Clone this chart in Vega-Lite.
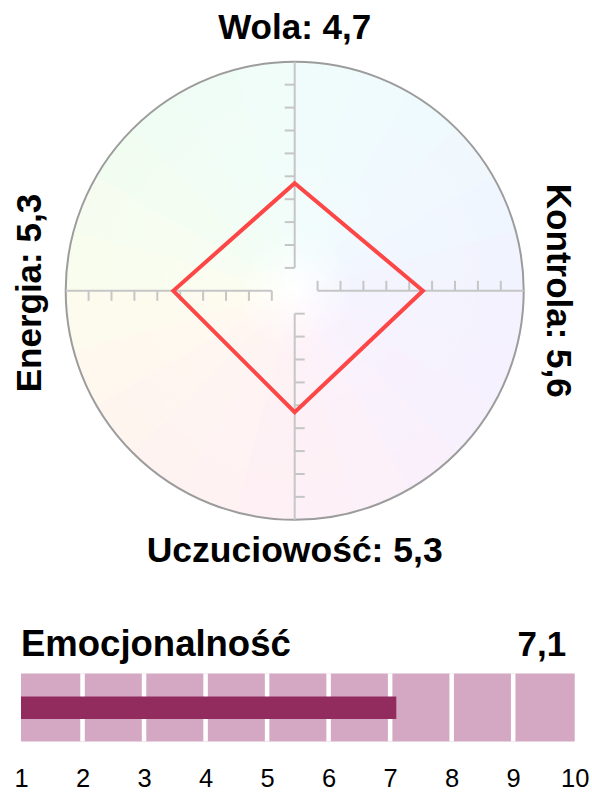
{
  "$schema": "https://vega.github.io/schema/vega-lite/v6.json",
  "padding": 0,
  "spacing": 0,
  "background": "white",
  "config": {"view": {"stroke": null}, "font": "Liberation Sans"},
  "datasets": {
    "radar": [
      {"dim": "Wola", "value": 4.7, "x": 0, "y": 4.7, "order": 1, "label": "Wola: 4,7"},
      {"dim": "Kontrola", "value": 5.6, "x": 5.6, "y": 0, "order": 2, "label": "Kontrola: 5,6"},
      {"dim": "Uczuciowość", "value": 5.3, "x": 0, "y": -5.3, "order": 3, "label": "Uczuciowość: 5,3"},
      {"dim": "Energia", "value": 5.3, "x": -5.3, "y": 0, "order": 4, "label": "Energia: 5,3"}
    ],
    "ticks": [
      {"p": 1, "n": -1}, {"p": 2, "n": -2}, {"p": 3, "n": -3}, {"p": 4, "n": -4}, {"p": 5, "n": -5},
      {"p": 6, "n": -6}, {"p": 7, "n": -7}, {"p": 8, "n": -8}, {"p": 9, "n": -9}
    ],
    "axes": [
      {"x": 0, "y": 1, "x2": 0, "y2": 10},
      {"x": 1, "y": 0, "x2": 10, "y2": 0},
      {"x": 0, "y": -1, "x2": 0, "y2": -10},
      {"x": -1, "y": 0, "x2": -10, "y2": 0}
    ],
    "sectors": [
      {"a": 0, "a2": 15}, {"a": 15, "a2": 30}, {"a": 30, "a2": 45}, {"a": 45, "a2": 60},
      {"a": 60, "a2": 75}, {"a": 75, "a2": 90}, {"a": 90, "a2": 105}, {"a": 105, "a2": 120},
      {"a": 120, "a2": 135}, {"a": 135, "a2": 150}, {"a": 150, "a2": 165}, {"a": 165, "a2": 180},
      {"a": 180, "a2": 195}, {"a": 195, "a2": 210}, {"a": 210, "a2": 225}, {"a": 225, "a2": 240},
      {"a": 240, "a2": 255}, {"a": 255, "a2": 270}, {"a": 270, "a2": 285}, {"a": 285, "a2": 300},
      {"a": 300, "a2": 315}, {"a": 315, "a2": 330}, {"a": 330, "a2": 345}, {"a": 345, "a2": 360}
    ],
    "emo": [{"name": "Emocjonalność", "value": 7.1, "label": "7,1", "min": 1, "max": 10}],
    "seps": [{"v": 2}, {"v": 3}, {"v": 4}, {"v": 5}, {"v": 6}, {"v": 7}, {"v": 8}, {"v": 9}]
  },
  "vconcat": [
    {
      "width": 589.4,
      "height": 581.6,
      "layer": [
        {
          "data": {"name": "sectors"},
          "mark": {"type": "arc", "strokeWidth": 0.8, "outerRadius": 229},
          "encoding": {
            "theta": {"field": "a", "type": "quantitative", "scale": {"domain": [0, 360], "range": [0, 6.283185307179586]}},
            "theta2": {"field": "a2"},
            "color": {"field": "a", "type": "quantitative", "legend": null,
              "scale": {"domain": [-7.5, 37.5, 82.5, 127.5, 172.5, 217.5, 262.5, 307.5, 352.5],
                        "range": ["#f0fdfa", "#f0f9fe", "#f2f2fe", "#f8f0fd", "#fdf0f5", "#fef4f0", "#fbfdee", "#f1fdf2", "#f0fdfa"]}},
            "stroke": {"field": "a", "type": "quantitative", "legend": null,
              "scale": {"domain": [-7.5, 37.5, 82.5, 127.5, 172.5, 217.5, 262.5, 307.5, 352.5],
                        "range": ["#f0fdfa", "#f0f9fe", "#f2f2fe", "#f8f0fd", "#fdf0f5", "#fef4f0", "#fbfdee", "#f1fdf2", "#f0fdfa"]}}
          }
        },
        {
          "data": {"name": "emo"},
          "mark": {"type": "arc", "theta": 0, "theta2": 6.283185307179586, "outerRadius": 229,
            "fill": {"gradient": "radial", "x1": 0.5, "y1": 0.5, "r1": 0, "x2": 0.5, "y2": 0.5, "r2": 0.5,
              "stops": [
                {"offset": 0, "color": "rgba(255,255,255,1)"},
                {"offset": 0.06, "color": "rgba(255,255,255,0.75)"},
                {"offset": 0.25, "color": "rgba(255,255,255,0.15)"},
                {"offset": 1, "color": "rgba(255,255,255,0)"}
              ]}},
          "encoding": {}
        },
        {
          "data": {"name": "emo"},
          "mark": {"type": "arc", "theta": 0, "theta2": 6.283185307179586, "outerRadius": 229, "filled": false, "stroke": "#9c9c9c", "strokeWidth": 2},
          "encoding": {}
        },
        {
          "data": {"name": "axes"},
          "mark": {"type": "rule", "stroke": "#c6c6c6", "strokeWidth": 2},
          "encoding": {
            "x": {"field": "x", "type": "quantitative", "scale": {"domain": [-12.869, 12.869], "nice": false, "zero": false}, "axis": null},
            "y": {"field": "y", "type": "quantitative", "scale": {"domain": [-12.699, 12.699], "nice": false, "zero": false}, "axis": null},
            "x2": {"field": "x2"},
            "y2": {"field": "y2"}
          }
        },
        {
          "data": {"name": "ticks"},
          "mark": {"type": "tick", "orient": "horizontal", "size": 10, "thickness": 2, "color": "#c6c6c6", "opacity": 1},
          "encoding": {
            "y": {"field": "p", "type": "quantitative", "scale": {"domain": [-12.699, 12.699], "nice": false, "zero": false}, "axis": null},
            "x": {"datum": -0.218, "type": "quantitative", "scale": {"domain": [-12.869, 12.869], "nice": false, "zero": false}, "axis": null}
          }
        },
        {
          "data": {"name": "ticks"},
          "mark": {"type": "tick", "orient": "horizontal", "size": 10, "thickness": 2, "color": "#c6c6c6", "opacity": 1},
          "encoding": {
            "y": {"field": "n", "type": "quantitative", "scale": {"domain": [-12.699, 12.699], "nice": false, "zero": false}, "axis": null},
            "x": {"datum": 0.218, "type": "quantitative", "scale": {"domain": [-12.869, 12.869], "nice": false, "zero": false}, "axis": null}
          }
        },
        {
          "data": {"name": "ticks"},
          "mark": {"type": "tick", "orient": "vertical", "size": 10, "thickness": 2, "color": "#c6c6c6", "opacity": 1},
          "encoding": {
            "x": {"field": "p", "type": "quantitative", "scale": {"domain": [-12.869, 12.869], "nice": false, "zero": false}, "axis": null},
            "y": {"datum": 0.218, "type": "quantitative", "scale": {"domain": [-12.699, 12.699], "nice": false, "zero": false}, "axis": null}
          }
        },
        {
          "data": {"name": "ticks"},
          "mark": {"type": "tick", "orient": "vertical", "size": 10, "thickness": 2, "color": "#c6c6c6", "opacity": 1},
          "encoding": {
            "x": {"field": "n", "type": "quantitative", "scale": {"domain": [-12.869, 12.869], "nice": false, "zero": false}, "axis": null},
            "y": {"datum": -0.218, "type": "quantitative", "scale": {"domain": [-12.699, 12.699], "nice": false, "zero": false}, "axis": null}
          }
        },
        {
          "data": {"name": "radar"},
          "mark": {"type": "line", "interpolate": "linear-closed", "stroke": "#fd4646", "strokeWidth": 4, "strokeJoin": "miter"},
          "encoding": {
            "x": {"field": "x", "type": "quantitative", "scale": {"domain": [-12.869, 12.869], "nice": false, "zero": false}, "axis": null},
            "y": {"field": "y", "type": "quantitative", "scale": {"domain": [-12.699, 12.699], "nice": false, "zero": false}, "axis": null},
            "order": {"field": "order", "type": "quantitative"}
          }
        },
        {
          "data": {"name": "radar"},
          "transform": [{"filter": {"field": "dim", "equal": "Wola"}}],
          "mark": {"type": "text", "fontSize": 35, "fontWeight": "bold", "font": "Liberation Sans", "align": "center", "baseline": "alphabetic", "color": "#000"},
          "encoding": {
            "x": {"datum": 0, "type": "quantitative", "scale": {"domain": [-12.869, 12.869], "nice": false, "zero": false}, "axis": null},
            "y": {"datum": 11.0, "type": "quantitative", "scale": {"domain": [-12.699, 12.699], "nice": false, "zero": false}, "axis": null},
            "text": {"field": "label"}
          }
        },
        {
          "data": {"name": "radar"},
          "transform": [{"filter": {"field": "dim", "equal": "Uczuciowość"}}],
          "mark": {"type": "text", "fontSize": 35.5, "fontWeight": "bold", "font": "Liberation Sans", "align": "center", "baseline": "alphabetic", "color": "#000"},
          "encoding": {
            "x": {"datum": 0, "type": "quantitative", "scale": {"domain": [-12.869, 12.869], "nice": false, "zero": false}, "axis": null},
            "y": {"datum": -11.83, "type": "quantitative", "scale": {"domain": [-12.699, 12.699], "nice": false, "zero": false}, "axis": null},
            "text": {"field": "label"}
          }
        },
        {
          "data": {"name": "radar"},
          "transform": [{"filter": {"field": "dim", "equal": "Kontrola"}}],
          "mark": {"type": "text", "fontSize": 35, "fontWeight": "bold", "font": "Liberation Sans", "align": "center", "baseline": "alphabetic", "angle": 90, "color": "#000"},
          "encoding": {
            "x": {"datum": 11.02, "type": "quantitative", "scale": {"domain": [-12.869, 12.869], "nice": false, "zero": false}, "axis": null},
            "y": {"datum": 0, "type": "quantitative", "scale": {"domain": [-12.699, 12.699], "nice": false, "zero": false}, "axis": null},
            "text": {"field": "label"}
          }
        },
        {
          "data": {"name": "radar"},
          "transform": [{"filter": {"field": "dim", "equal": "Energia"}}],
          "mark": {"type": "text", "fontSize": 35, "fontWeight": "bold", "font": "Liberation Sans", "align": "center", "baseline": "alphabetic", "angle": 270, "color": "#000"},
          "encoding": {
            "x": {"datum": -11.1, "type": "quantitative", "scale": {"domain": [-12.869, 12.869], "nice": false, "zero": false}, "axis": null},
            "y": {"datum": -0.1, "type": "quantitative", "scale": {"domain": [-12.699, 12.699], "nice": false, "zero": false}, "axis": null},
            "text": {"field": "label"}
          }
        }
      ]
    },
    {
      "width": 592,
      "height": 159.4,
      "layer": [
        {
          "data": {"name": "emo"},
          "mark": {"type": "rect", "color": "#d4a8c2"},
          "encoding": {
            "x": {"field": "min", "type": "quantitative", "scale": {"domain": [0.6586, 10.281], "nice": false, "zero": false},
              "axis": {"values": [1, 2, 3, 4, 5, 6, 7, 8, 9, 10], "format": "d", "domain": false, "ticks": false, "tickSize": 0, "grid": false, "labelFontSize": 25.5, "labelFont": "Liberation Sans", "labelPadding": 25, "labelFlush": false, "labelColor": "#000", "title": null, "labelOverlap": false}},
            "x2": {"field": "max"},
            "y": {"datum": 0, "type": "quantitative", "scale": {"domain": [0, 2.344], "nice": false, "zero": false}, "axis": null},
            "y2": {"datum": 1}
          }
        },
        {
          "data": {"name": "seps"},
          "mark": {"type": "rule", "stroke": "white", "strokeWidth": 4.5},
          "encoding": {
            "x": {"field": "v", "type": "quantitative", "scale": {"domain": [0.6586, 10.281], "nice": false, "zero": false},
              "axis": {"values": [1, 2, 3, 4, 5, 6, 7, 8, 9, 10], "format": "d", "domain": false, "ticks": false, "tickSize": 0, "grid": false, "labelFontSize": 25.5, "labelFont": "Liberation Sans", "labelPadding": 25, "labelFlush": false, "labelColor": "#000", "title": null, "labelOverlap": false}},
            "y": {"datum": 0, "type": "quantitative", "scale": {"domain": [0, 2.344], "nice": false, "zero": false}, "axis": null},
            "y2": {"datum": 1}
          }
        },
        {
          "data": {"name": "emo"},
          "mark": {"type": "rect", "color": "#922b5e"},
          "encoding": {
            "x": {"field": "min", "type": "quantitative", "scale": {"domain": [0.6586, 10.281], "nice": false, "zero": false},
              "axis": {"values": [1, 2, 3, 4, 5, 6, 7, 8, 9, 10], "format": "d", "domain": false, "ticks": false, "tickSize": 0, "grid": false, "labelFontSize": 25.5, "labelFont": "Liberation Sans", "labelPadding": 25, "labelFlush": false, "labelColor": "#000", "title": null, "labelOverlap": false}},
            "x2": {"field": "value"},
            "y": {"datum": 0.33, "type": "quantitative", "scale": {"domain": [0, 2.344], "nice": false, "zero": false}, "axis": null},
            "y2": {"datum": 0.66}
          }
        },
        {
          "data": {"name": "emo"},
          "mark": {"type": "text", "fontSize": 36.5, "fontWeight": "bold", "font": "Liberation Sans", "align": "left", "baseline": "alphabetic", "color": "#000"},
          "encoding": {
            "x": {"datum": 1, "type": "quantitative", "scale": {"domain": [0.6586, 10.281], "nice": false, "zero": false},
              "axis": {"values": [1, 2, 3, 4, 5, 6, 7, 8, 9, 10], "format": "d", "domain": false, "ticks": false, "tickSize": 0, "grid": false, "labelFontSize": 25.5, "labelFont": "Liberation Sans", "labelPadding": 25, "labelFlush": false, "labelColor": "#000", "title": null, "labelOverlap": false}},
            "y": {"datum": 1.26, "type": "quantitative", "scale": {"domain": [0, 2.344], "nice": false, "zero": false}, "axis": null},
            "text": {"field": "name"}
          }
        },
        {
          "data": {"name": "emo"},
          "mark": {"type": "text", "fontSize": 35, "fontWeight": "bold", "font": "Liberation Sans", "align": "right", "baseline": "alphabetic", "color": "#000"},
          "encoding": {
            "x": {"datum": 9.86, "type": "quantitative", "scale": {"domain": [0.6586, 10.281], "nice": false, "zero": false},
              "axis": {"values": [1, 2, 3, 4, 5, 6, 7, 8, 9, 10], "format": "d", "domain": false, "ticks": false, "tickSize": 0, "grid": false, "labelFontSize": 25.5, "labelFont": "Liberation Sans", "labelPadding": 25, "labelFlush": false, "labelColor": "#000", "title": null, "labelOverlap": false}},
            "y": {"datum": 1.26, "type": "quantitative", "scale": {"domain": [0, 2.344], "nice": false, "zero": false}, "axis": null},
            "text": {"field": "label"}
          }
        }
      ]
    }
  ]
}
